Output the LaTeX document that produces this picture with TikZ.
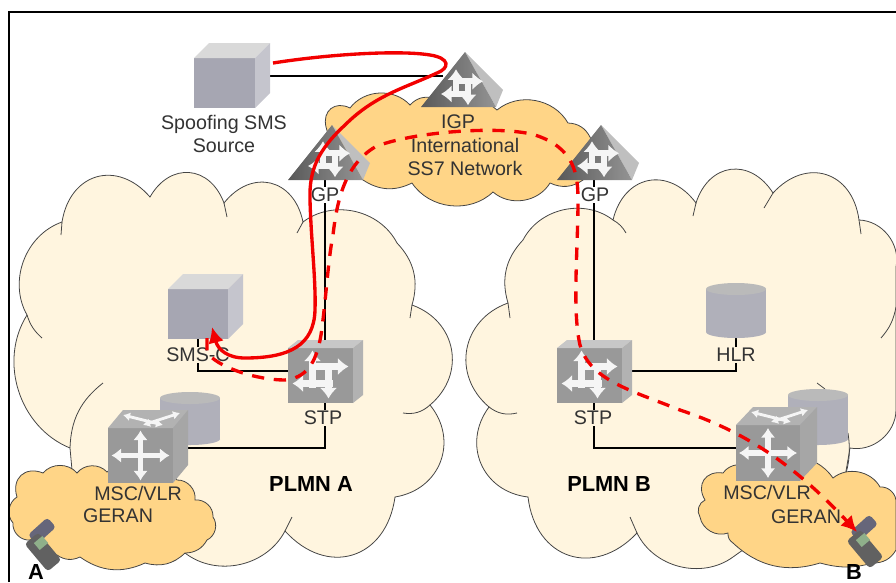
\documentclass[tikz,border=0pt]{standalone}
\usepackage{fontspec}
\setmainfont{Liberation Sans}
\usetikzlibrary{arrows.meta,backgrounds}

\definecolor{creamfill}{HTML}{FFF5DF}
\definecolor{orangefill}{HTML}{FFD587}
\definecolor{cloudline}{HTML}{444444}
\definecolor{servergrey}{HTML}{A6A6B2}
\definecolor{dbgrey}{HTML}{B0B0BA}
\definecolor{switchgrey}{HTML}{999999}
\definecolor{labelgrey}{HTML}{333333}
\definecolor{lidgrey}{HTML}{66667A}
\definecolor{screengreen}{HTML}{8FB08A}

\tikzset{
	lobe/.style = {bend left = 65, looseness = 1.4},
	roundlobe/.style = {bend left = 60, looseness = 1.2},
	midlobe/.style = {bend left = 50},
	flatlobe/.style = {bend left = 30},
	plmncloud/.style = {draw = cloudline, fill = creamfill, line width = 0.45pt},
	radiocloud/.style = {draw = cloudline, fill = orangefill, line width = 0.45pt},
	tail/.style = {draw = cloudline, line width = 0.45pt},
	link/.style = {draw = black, line width = 1.15pt},
	frameline/.style = {draw = black, line width = 1.2pt},
	devbox/.style n args = {3}{rectangle, inner sep = 0, outer sep = 0, fill = #3,
		minimum width = #1*0.02cm, minimum height = #2*0.02cm},
	devlabel/.style = {text = labelgrey, font = \fontsize{11.2}{13.5}\selectfont, inner sep = 0.5pt, align = center},
	boldlabel/.style = {text = black, font = \fontsize{12.4}{14}\selectfont\bfseries, inner sep = 0},
	whitearrow/.style = {draw = white!92!gray, line width = 3.6pt, -{Latex[length = 6pt, width = 10pt]}},
	crossarrow/.style = {draw = white!92!gray, line width = 3pt, {Latex[length = 5.5pt, width = 8.5pt]}-{Latex[length = 5.5pt, width = 8.5pt]}},
	lidarrow/.style = {draw = white!92!gray, line width = 1.6pt, {Latex[length = 4pt, width = 5pt]}-{Latex[length = 4pt, width = 5pt]}},
	phonebody/.style = {rectangle, rounded corners = 2pt, rotate = 40, inner sep = 0, fill = black!62, minimum width = 0.36cm, minimum height = 0.72cm},
	phonelid/.style = {rectangle, rounded corners = 2pt, rotate = -48, inner sep = 0, fill = lidgrey, minimum width = 0.26cm, minimum height = 0.52cm},
	phonescreen/.style = {rectangle, rotate = 40, inner sep = 0, fill = screengreen, minimum width = 0.22cm, minimum height = 0.18cm},
	attack/.style = {draw = red!95!black, line width = 1.9pt},
	attackhead/.style = {-{Latex[length = 9pt, width = 9pt]}},
}

% cube faces around a front node: name, depth x, depth y, top colour, side colour
\newcommand{\cubefaces}[5]{
	\fill[#4] (#1.north west) -- ++(#2, -#3) -- ([shift = {(#2, -#3)}]#1.north east) -- (#1.north east) -- cycle;
	\fill[#5] (#1.north east) -- ([shift = {(#2, -#3)}]#1.north east) -- ([shift = {(#2, -#3)}]#1.south east) -- (#1.south east) -- cycle;
}
% ends of a database drum around its body node
\newcommand{\drumends}[1]{
	\fill[dbgrey] (#1.south) ellipse [x radius = 30, y radius = 6];
	\fill[black!27] (#1.north) ellipse [x radius = 30, y radius = 6];
}
% pinwheel of four arrows: centre, scale
\newcommand{\pinwheel}[2]{
	\begin{scope}[shift = {(#1)}, scale = #2]
		\draw[whitearrow] (-12, -9) -- (28, -9);
		\draw[whitearrow] (12, 8) -- (-28, 8);
		\draw[whitearrow] (-8, 12) -- (-8, -25);
		\draw[whitearrow] (8, -12) -- (8, 23);
	\end{scope}
}
% gateway pyramid standing on a named point
\newcommand{\pyramid}[1]{
	\fill[black!25] ([shift = {(7, -55)}]#1) -- ([shift = {(45, -17)}]#1) -- ([shift = {(38, 0)}]#1) -- cycle;
	\shade[left color = black!65, right color = black!42] ([shift = {(7, -55)}]#1) -- ([shift = {(38, 0)}]#1) -- ([shift = {(-37, 0)}]#1) -- cycle;
}
% crossing arrows on the top face and plus on the front of a switch
\newcommand{\crossplus}[1]{
	\draw[lidarrow] ([shift = {(15, -13)}]#1.north west) -- ([shift = {(55, -3)}]#1.north west);
	\draw[lidarrow] ([shift = {(35, -3)}]#1.north west) -- ([shift = {(72, -15)}]#1.north west);
	\draw[crossarrow] ([shift = {(-29, 0)}]#1.center) -- ([shift = {(29, 0)}]#1.center);
	\draw[crossarrow] ([shift = {(0, -25)}]#1.center) -- ([shift = {(0, 25)}]#1.center);
}

\begin{document}
\begin{tikzpicture}[x = 0.02cm, y = -0.02cm]
	\useasboundingbox (0, 0) rectangle (896, 582);

	% Clouds
	\begin{pgfonlayer}{background}
		\draw[plmncloud] (62, 222) to[lobe] (150, 197) to[lobe] (224, 203) to[lobe] (303, 222) to[midlobe] (397, 243)
			to[flatlobe] (412, 305) to[roundlobe] (430, 405) to[roundlobe] (395, 497)
			to[lobe] (285, 531) to[midlobe] (185, 553) to[flatlobe] (72, 470) -- (70, 448)
			to[midlobe] (27, 315) to[midlobe] cycle;
		\draw[plmncloud] (508, 303) to[flatlobe] (523, 240) to[midlobe] (613, 220) to[lobe] (696, 203)
			to[lobe] (773, 193) to[lobe] (859, 220) to[midlobe] (896, 267) -- (896, 410) to[midlobe] (850, 448) -- (845, 477)
			-- (733, 557) to[midlobe] (637, 533) to[lobe] (528, 497) to[roundlobe] (489, 407) to[roundlobe] cycle;
		\draw[tail] (62, 222) to (61, 235);
		\draw[tail] (27, 315) to[bend right = 15] (42, 338);
		\draw[tail] (70, 448) to[bend left = 25] (103, 383);
		\draw[tail] (224, 203) to (227, 217);
		\draw[tail] (303, 222) to (297, 233);
		\draw[tail] (285, 531) to (292, 517);
		\draw[tail] (412, 305) to (410, 318);
		\draw[tail] (430, 405) to[bend left = 25] (403, 413);
		\draw[tail] (508, 303) to (510, 318);
		\draw[tail] (489, 407) to[bend right = 25] (517, 413);
		\draw[tail] (613, 220) to[bend left = 15] (626, 233);
		\draw[tail] (696, 203) to (693, 216);
		\draw[tail] (773, 193) to (764, 208);
		\draw[tail] (859, 220) to (861, 234);
		\draw[tail] (896, 307) to[bend left = 15] (881, 338);
		\draw[tail] (848, 433) to[bend left = 12] (845, 477);
		\draw[tail] (630, 517) to (637, 533);
		\draw[tail] (817, 383) to (825, 389);

		\draw[radiocloud] (326, 127) to[lobe] (350, 108) to[midlobe] (410, 105) to[flatlobe] (433, 98) to[flatlobe] (497, 110)
			to[midlobe] (568, 123) to[flatlobe] (590, 137) to[flatlobe] (583, 180) to[flatlobe] (550, 183) to[midlobe] (493, 192)
			to[midlobe] (412, 183) to[flatlobe] (363, 180) to[flatlobe] (350, 153) to[flatlobe] cycle;
		\draw[radiocloud] (17, 497) to[lobe] (43, 473) to[midlobe] (77, 473) to[midlobe] (107, 472) to[midlobe] (177, 480)
			to[midlobe] (195, 500) to[midlobe] (213, 517) to[midlobe] (207, 540) to[flatlobe] (185, 553) to[flatlobe] (145, 563)
			to[flatlobe] (80, 557) to[flatlobe] (57, 555) to[midlobe] (30, 540) to[midlobe] (13, 523) to[midlobe] cycle;
		\draw[radiocloud] (705, 500) to[lobe] (723, 473) to[midlobe] (753, 470) to[midlobe] (833, 478) to[midlobe] (880, 487)
			to[midlobe] (896, 503) -- (896, 550) to[flatlobe] (873, 563) to[bend left = 15] (820, 563) to[flatlobe] (733, 543)
			to[flatlobe] (728, 533) to[midlobe] (700, 517) to[midlobe] cycle;

		% Frame
		\draw[frameline] (9, 582) -- (9, 12) -- (896, 12);
	\end{pgfonlayer}

	% Nodes
	\coordinate (igp) at (458, 107);
	\coordinate (gpa) at (325, 180);
	\coordinate (gpb) at (594, 180);
	\coordinate (mscaport) at (173, 448);
	\coordinate (mscbport) at (736, 448);
	\coordinate (stpaport) at (288, 371);
	\coordinate (stpbport) at (622, 371);
	\coordinate (igpport) at (443, 76);

	\node[devbox = {60}{41}{dbgrey}] (dba) at (190, 418.5) {};
	\node[devbox = {60}{43}{dbgrey}] (hlr) at (736, 310.5) {};
	\node[devbox = {60}{44}{dbgrey}] (dbb) at (818, 417) {};
	\drumends{dba}
	\drumends{hlr}
	\drumends{dbb}

	\node[devbox = {61}{50}{servergrey}] (spoof) at (224.5, 83) {};
	\node[devbox = {60}{50}{servergrey}] (smsc) at (198, 314) {};
	\node[devbox = {65}{55}{switchgrey}] (stpa) at (320.5, 375.5) {};
	\node[devbox = {65}{55}{switchgrey}] (stpb) at (589.5, 375.5) {};
	\node[devbox = {65}{55}{switchgrey}] (msca) at (140.5, 455.5) {};
	\node[devbox = {64}{56}{switchgrey}] (mscb) at (768, 453) {};
	\cubefaces{spoof}{15}{15}{black!15}{servergrey!65!white}
	\cubefaces{smsc}{15}{15}{black!15}{servergrey!65!white}
	\cubefaces{stpa}{10}{8}{black!22}{black!30}
	\cubefaces{stpb}{10}{8}{black!22}{black!30}
	\cubefaces{msca}{15}{18}{black!30}{black!35}
	\cubefaces{mscb}{17}{18}{black!30}{black!35}
	\pinwheel{stpa}{1}
	\pinwheel{stpb}{1}
	\crossplus{msca}
	\crossplus{mscb}

	\pyramid{igp}
	\pyramid{gpa}
	\pyramid{gpb}
	\pinwheel{462, 88}{0.75}
	\pinwheel{329, 160}{0.75}
	\pinwheel{598, 160}{0.75}

	\node[phonelid] (lida) at (42, 531) {};
	\node[phonebody] (phonea) at (43, 552) {};
	\node[phonescreen] (screena) at (41, 543) {};
	\node[phonelid] (lidb) at (864, 528) {};
	\node[phonebody] (phoneb) at (865, 549) {};
	\node[phonescreen] (screenb) at (863, 540) {};

	% Labels
	\node[devlabel] (spooflabel) at (224, 134) {Spoofing SMS\\Source};
	\node[devlabel] (igplabel) at (458, 122) {IGP};
	\node[devlabel] (ss7label) at (465, 157) {International\\SS7 Network};
	\node[devlabel, fill = white] (gpalabel) at (325, 195) {GP};
	\node[devlabel, fill = white] (gpblabel) at (595, 195) {GP};
	\node[devlabel, fill = creamfill] (smsclabel) at (198, 355) {SMS-C};
	\node[devlabel, fill = creamfill] (stpalabel) at (323, 418) {STP};
	\node[devlabel, fill = creamfill] (stpblabel) at (593, 418) {STP};
	\node[devlabel, fill = creamfill] (hlrlabel) at (736, 355) {HLR};
	\node[devlabel] (mscalabel) at (138, 493) {MSC/VLR};
	\node[devlabel] (geranalabel) at (118, 516) {GERAN};
	\node[devlabel] (mscblabel) at (767, 492) {MSC/VLR};
	\node[devlabel] (geranblabel) at (806, 517) {GERAN};
	\node[boldlabel] (plmna) at (311, 484) {PLMN A};
	\node[boldlabel] (plmnb) at (609, 484) {PLMN B};
	\node[boldlabel] (phonealabel) at (36, 572) {A};
	\node[boldlabel] (phoneblabel) at (854, 572) {B};

	% Edges
	\begin{pgfonlayer}{background}
		\draw[link] (igpport) -- (spoof.east |- igpport);
		\draw[link] (gpa) -- (gpa |- stpa);
		\draw[link] (gpb) -- (gpb |- stpb);
		\draw[link] (gpa |- stpa) |- (mscaport);
		\draw[link] (gpb |- stpb) |- (mscbport);
		\draw[link] (smsc.south) |- (stpaport);
		\draw[link] (hlr.south) |- (stpbport);
	\end{pgfonlayer}

	% Spoofed message and its forwarding
	\coordinate (spoofout) at (273, 63);
	\coordinate (smscin) at (212, 327);
	\coordinate (smscout) at (207, 338);
	\coordinate (phonebin) at (857, 532);
	\draw[attack, attackhead] (spoofout) .. controls (330, 54) and (400, 50) .. (430, 55)
		.. controls (450, 58) and (450, 68) .. (437, 73)
		.. controls (405, 88) and (375, 95) .. (345, 125)
		.. controls (318, 150) and (309, 170) .. (310, 200)
		.. controls (311, 240) and (316, 280) .. (315, 310)
		.. controls (314, 345) and (290, 358) .. (245, 358)
		.. controls (228, 358) and (218, 350) .. (smscin);
	\draw[attack, dash pattern = on 7pt off 5.5pt, attackhead] (smscout) -- (207, 352)
		.. controls (215, 366) and (255, 380) .. (285, 380)
		.. controls (305, 378) and (316, 365) .. (321, 335)
		.. controls (326, 300) and (328, 260) .. (333, 235)
		.. controls (337, 200) and (345, 165) .. (375, 147)
		.. controls (410, 132) and (500, 125) .. (535, 135)
		.. controls (575, 148) and (578, 175) .. (578, 200)
		.. controls (578, 250) and (572, 310) .. (580, 345)
		.. controls (590, 380) and (630, 390) .. (680, 410)
		.. controls (740, 430) and (790, 460) .. (phonebin);
\end{tikzpicture}
\end{document}
